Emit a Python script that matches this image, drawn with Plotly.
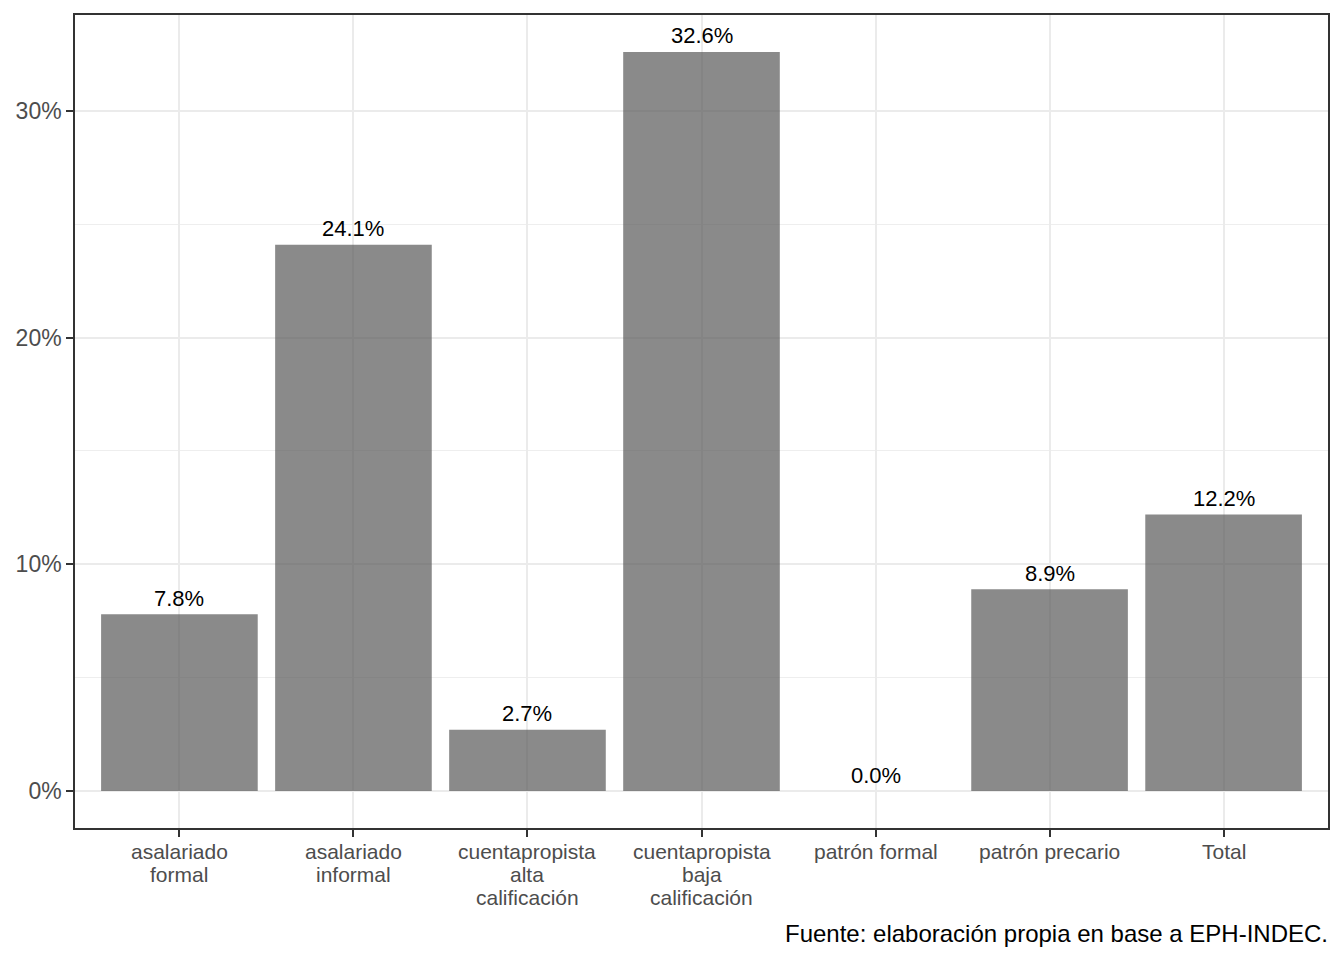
import plotly.graph_objects as go

categories = ["asalariado\nformal", "asalariado\ninformal", "cuentapropista\nalta\ncalificación",
              "cuentapropista\nbaja\ncalificación", "patrón formal", "patrón precario", "Total"]
values = [7.8, 24.1, 2.7, 32.6, 0.0, 8.9, 12.2]
value_labels = ["7.8%", "24.1%", "2.7%", "32.6%", "0.0%", "8.9%", "12.2%"]
y_ticks = [0, 10, 20, 30]
y_tick_labels = ["0%", "10%", "20%", "30%"]
caption = "Fuente: elaboración propia en base a EPH-INDEC."

FONT = "Liberation Sans, Arial, sans-serif"
ymax = max(values)
yrange = [-ymax * 0.05, ymax * 1.05]

fig = go.Figure()
fig.add_trace(go.Bar(
    x=categories, y=values,
    marker=dict(color="rgba(89,89,89,0.7)", line=dict(width=0)),
    hoverinfo="skip",
))

annotations = []
for c, v, lab in zip(categories, values, value_labels):
    annotations.append(dict(x=c, y=v, xref="x", yref="y", text=lab, showarrow=False,
                            yanchor="middle", yshift=16,
                            font=dict(family=FONT, size=22, color="black")))
for c in categories:
    for i, line in enumerate(c.split("\n")):
        annotations.append(dict(x=c, y=0, xref="x", yref="paper", text=line, showarrow=False,
                                yanchor="middle", yshift=-23 - 23 * i,
                                font=dict(family=FONT, size=21, color="#4D4D4D")))
annotations.append(dict(x=1, y=0, xref="paper", yref="paper", text=caption, showarrow=False,
                        xanchor="right", yanchor="middle", xshift=2, yshift=-105,
                        font=dict(family=FONT, size=24, color="black")))

fig.update_layout(
    width=1344, height=960,
    margin=dict(l=67, r=24, t=5, b=140),
    paper_bgcolor="white", plot_bgcolor="white",
    bargap=0.1, showlegend=False,
    annotations=annotations,
    font=dict(family=FONT),
)
fig.update_xaxes(
    type="category", range=[-0.6, len(categories) - 0.4],
    showticklabels=False,
    showgrid=True, gridcolor="#EBEBEB", gridwidth=2,
    ticks="outside", ticklen=7, tickwidth=1.5, tickcolor="#333333",
    showline=True, linecolor="#333333", linewidth=1.5, mirror=True,
    zeroline=False,
)
fig.update_yaxes(
    range=yrange,
    tickvals=y_ticks, ticktext=y_tick_labels,
    tickfont=dict(family=FONT, size=23, color="#4D4D4D"),
    showgrid=True, gridcolor="#EBEBEB", gridwidth=2,
    minor=dict(dtick=5, tick0=0, showgrid=True, gridcolor="#EEEEEE", gridwidth=1, ticks=""),
    ticks="outside", ticklen=7, tickwidth=1.5, tickcolor="#333333",
    showline=True, linecolor="#333333", linewidth=1.5, mirror=True,
    zeroline=False,
)

fig.write_html("out.html")
